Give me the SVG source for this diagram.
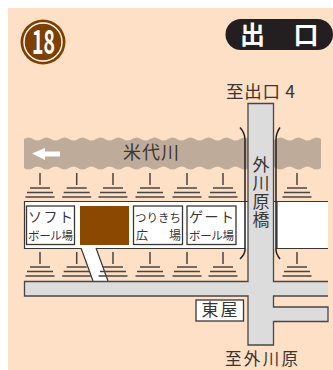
<svg xmlns="http://www.w3.org/2000/svg" width="333" height="370" viewBox="0 0 333 370">
<style>
text{font-family:"Noto Sans CJK JP","Noto Sans",sans-serif;fill:#3a3634}
.o{fill:none;stroke:#3a3634;stroke-width:1.2}
.r{fill:#dcdcdd;stroke:#4a4644;stroke-width:1.3}
.b{fill:#fff;stroke:#3a3634;stroke-width:1.3}
.s{stroke:#4a4644;stroke-width:1.5;fill:none}
</style>
<defs>
<g id="bank" class="s"><path d="M0 0V12M-10 15H10M-13 19.500H13M-14.500 24H14.500"/></g>
</defs>
<rect x="8" y="8" width="325" height="362" fill="#fde0c5"/>
<g id="badge">
<circle cx="43" cy="42" r="22.500" fill="#7f3f00"/>
<circle cx="43" cy="42" r="19" fill="none" stroke="#fff" stroke-width="1.400"/>
<text x="43.500" y="53.500" font-size="33" font-weight="700" text-anchor="middle" textLength="23" lengthAdjust="spacingAndGlyphs" style="fill:#fff">18</text>
</g>
<g id="exit">
<rect x="225.500" y="19" width="107.500" height="31" rx="15.500" fill="#231f20"/>
<text x="252.500" y="44" font-size="25" font-weight="700" text-anchor="middle" style="fill:#fff">出</text>
<text x="306" y="44" font-size="25" font-weight="700" text-anchor="middle" style="fill:#fff">口</text>
</g>
<text id="to-exit" x="226" y="98" font-size="17.500" textLength="69">至出口 4</text>
<g id="river">
<path id="water" fill="#bfab99" d="M24 139q4.500-3 9 0t9 0t9 0t9 0t9 0t9 0t9 0t9 0t9 0t9 0t9 0t9 0t9 0t9 0t9 0t9 0t9 0t9 0t9 0t9 0t9 0t9 0t9 0t9 0t9 0t9 0t9 0t9 0t9 0t9 0t9 0t9 0t9 0V168q-4.500 3-9 0t-9 0t-9 0t-9 0t-9 0t-9 0t-9 0t-9 0t-9 0t-9 0t-9 0t-9 0t-9 0t-9 0t-9 0t-9 0t-9 0t-9 0t-9 0t-9 0t-9 0t-9 0t-9 0t-9 0t-9 0t-9 0t-9 0t-9 0t-9 0t-9 0t-9 0t-9 0t-9 0Z"/>
<path id="flow" fill="#fff" d="M32 153.500L45 148V151.500H60V156.500H45V160Z"/>
<text x="123" y="159" font-size="18" textLength="56">米代川</text>
</g>
<g id="bank-white">
<rect x="24.500" y="201.500" width="303.500" height="47" fill="#fff"/>
<path class="o" d="M328 201.500H24.500V248.500H81M96 248.500H245M277 201.500V248.500H328"/>
</g>
<g id="path-white">
<path d="M81 248L93 282H108L96 248Z" fill="#fff"/>
<path class="o" d="M81 248L93 281M96 248L108 281"/>
</g>
<g id="banks">
<use href="#bank" x="40" y="173"/><use href="#bank" x="76.700" y="173"/><use href="#bank" x="113" y="173"/><use href="#bank" x="150" y="173"/><use href="#bank" x="187" y="173"/><use href="#bank" x="223" y="173"/><use href="#bank" x="297" y="173"/>
<use href="#bank" x="40" y="252"/><use href="#bank" x="76.700" y="252"/><use href="#bank" x="113" y="252"/><use href="#bank" x="150" y="252"/><use href="#bank" x="187" y="252"/><use href="#bank" x="223" y="252"/><use href="#bank" x="297" y="252"/>
</g>
<g id="road">
<path class="r" d="M328 281.500H273.500V103.500H248V281.500H24.500V296H248V345H273.500V321.500H328V307H273.500V296H328"/>
</g>
<g id="rails" fill="none" stroke="#231f20" stroke-width="1.500">
<path d="M240 127.500Q245 133 245 140V250Q245 254 240 259"/>
<path d="M280 127.500Q276 133 276 140V250Q276 254 280 259"/>
</g>
<text id="bridge-label" x="261" y="156" font-size="17" letter-spacing="1.500" style="writing-mode:vertical-rl">外川原橋</text>
<g id="softball">
<rect class="b" x="26.500" y="206" width="48" height="38.500"/>
<text x="28" y="222" font-size="14" textLength="45">ソフト</text>
<text x="28" y="240" font-size="11.500" textLength="45">ボール場</text>
</g>
<rect id="building" x="80" y="206" width="49" height="39" fill="#8b4800"/>
<g id="fishing">
<rect class="b" x="133.500" y="206" width="49" height="38.500"/>
<text x="135" y="222" font-size="11.500" textLength="46">つりきち</text>
<text x="136" y="240" font-size="12">広</text>
<text x="169" y="240" font-size="12">場</text>
</g>
<g id="gateball">
<rect class="b" x="187" y="206" width="49" height="38.500"/>
<text x="189" y="222" font-size="14" textLength="45">ゲート</text>
<text x="189" y="240" font-size="11.500" textLength="45">ボール場</text>
</g>
<g id="azumaya">
<rect class="b" x="196" y="300" width="47.500" height="21"/>
<text x="219.500" y="316" font-size="17" text-anchor="middle" textLength="36">東屋</text>
</g>
<text id="to-sotokawara" x="225" y="365" font-size="16.500" textLength="73">至外川原</text>
</svg>
